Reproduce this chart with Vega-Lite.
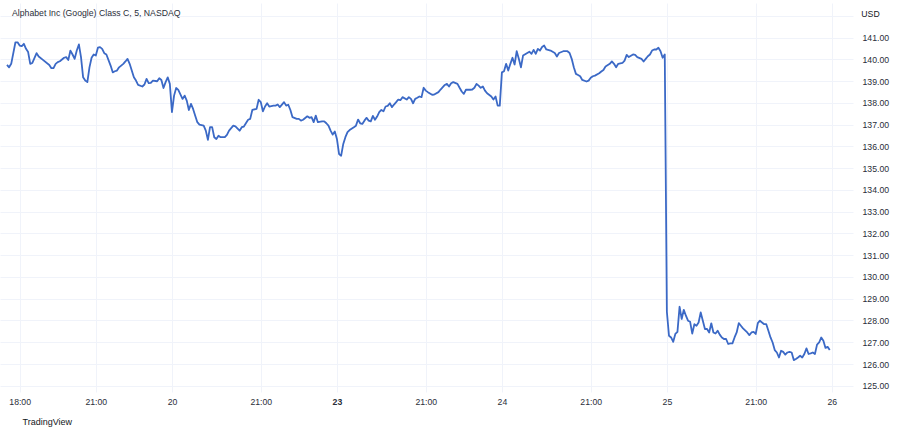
{
  "$schema": "https://vega.github.io/schema/vega-lite/v6.json",
  "width": 853,
  "height": 389,
  "autosize": {"type": "none"},
  "padding": {"left": 0, "top": 3, "right": 47, "bottom": 42},
  "background": "white",
  "config": {"view": {"stroke": null}, "font": "Liberation Sans"},
  "title": {
    "text": "Alphabet Inc (Google) Class C, 5, NASDAQ",
    "anchor": "start",
    "frame": "group",
    "orient": "top",
    "offset": -19,
    "dx": 12,
    "baseline": "middle",
    "fontSize": 8.7,
    "fontWeight": "normal",
    "color": "#2a2e39"
  },
  "data": {
    "values": [
      {"bar": 0, "price": 139.74}, {"bar": 1, "price": 139.63}, {"bar": 2, "price": 139.79}, {"bar": 4, "price": 140.78}, {"bar": 5, "price": 140.78}, {"bar": 6, "price": 140.63}, {"bar": 7, "price": 140.60}, {"bar": 8, "price": 140.71}, {"bar": 9, "price": 140.48}, {"bar": 10, "price": 140.33}, {"bar": 11, "price": 139.79}, {"bar": 12, "price": 139.83}, {"bar": 14, "price": 140.28}, {"bar": 15, "price": 140.13}, {"bar": 17, "price": 139.97}, {"bar": 20, "price": 139.74}, {"bar": 21, "price": 139.59}, {"bar": 22, "price": 139.59}, {"bar": 23, "price": 139.79}, {"bar": 24, "price": 139.87}, {"bar": 25, "price": 139.91}, {"bar": 27, "price": 140.07}, {"bar": 28, "price": 140.10}, {"bar": 29, "price": 139.97}, {"bar": 30, "price": 140.40}, {"bar": 31, "price": 140.22}, {"bar": 32, "price": 140.02}, {"bar": 33, "price": 140.40}, {"bar": 34, "price": 140.68}, {"bar": 35, "price": 140.10}, {"bar": 36, "price": 139.17}, {"bar": 37, "price": 139.02}, {"bar": 38, "price": 138.95}, {"bar": 39, "price": 139.63}, {"bar": 40, "price": 140.07}, {"bar": 41, "price": 140.22}, {"bar": 42, "price": 140.17}, {"bar": 43, "price": 140.53}, {"bar": 44, "price": 140.56}, {"bar": 45, "price": 140.48}, {"bar": 46, "price": 140.28}, {"bar": 47, "price": 140.22}, {"bar": 49, "price": 139.71}, {"bar": 50, "price": 139.40}, {"bar": 51, "price": 139.45}, {"bar": 52, "price": 139.48}, {"bar": 53, "price": 139.63}, {"bar": 55, "price": 139.79}, {"bar": 56, "price": 139.90}, {"bar": 57, "price": 140.02}, {"bar": 58, "price": 139.79}, {"bar": 59, "price": 139.48}, {"bar": 60, "price": 139.17}, {"bar": 61, "price": 139.02}, {"bar": 62, "price": 138.82}, {"bar": 64, "price": 138.75}, {"bar": 65, "price": 138.84}, {"bar": 66, "price": 139.10}, {"bar": 67, "price": 138.90}, {"bar": 68, "price": 138.92}, {"bar": 69, "price": 139.02}, {"bar": 71, "price": 138.99}, {"bar": 72, "price": 139.13}, {"bar": 73, "price": 139.05}, {"bar": 74, "price": 138.68}, {"bar": 75, "price": 138.95}, {"bar": 76, "price": 139.17}, {"bar": 77, "price": 138.87},
      {"bar": 78, "price": 137.57}, {"bar": 79, "price": 138.33}, {"bar": 80, "price": 138.68}, {"bar": 81, "price": 138.59}, {"bar": 83, "price": 138.18}, {"bar": 84, "price": 138.33}, {"bar": 85, "price": 138.10}, {"bar": 86, "price": 137.67}, {"bar": 87, "price": 137.95}, {"bar": 88, "price": 137.72}, {"bar": 89, "price": 137.41}, {"bar": 90, "price": 137.11}, {"bar": 91, "price": 137.00}, {"bar": 93, "price": 136.95}, {"bar": 94, "price": 136.72}, {"bar": 95, "price": 136.30}, {"bar": 96, "price": 136.88}, {"bar": 97, "price": 136.88}, {"bar": 98, "price": 136.42}, {"bar": 99, "price": 136.34}, {"bar": 100, "price": 136.49}, {"bar": 101, "price": 136.42}, {"bar": 103, "price": 136.42}, {"bar": 104, "price": 136.53}, {"bar": 105, "price": 136.72}, {"bar": 107, "price": 136.95}, {"bar": 108, "price": 136.92}, {"bar": 110, "price": 136.72}, {"bar": 111, "price": 136.88}, {"bar": 112, "price": 136.91}, {"bar": 114, "price": 137.22}, {"bar": 115, "price": 137.26}, {"bar": 116, "price": 137.67}, {"bar": 118, "price": 137.72}, {"bar": 119, "price": 138.14}, {"bar": 120, "price": 138.03}, {"bar": 121, "price": 137.61}, {"bar": 122, "price": 137.83}, {"bar": 123, "price": 137.98}, {"bar": 124, "price": 137.83}, {"bar": 126, "price": 137.87}, {"bar": 127, "price": 137.87}, {"bar": 128, "price": 137.92}, {"bar": 129, "price": 137.80}, {"bar": 131, "price": 138.03}, {"bar": 132, "price": 137.87}, {"bar": 133, "price": 137.91}, {"bar": 134, "price": 137.67}, {"bar": 135, "price": 137.34}, {"bar": 137, "price": 137.26}, {"bar": 138, "price": 137.26}, {"bar": 139, "price": 137.18}, {"bar": 140, "price": 137.22}, {"bar": 142, "price": 137.38}, {"bar": 143, "price": 137.31}, {"bar": 144, "price": 137.34}, {"bar": 145, "price": 137.11}, {"bar": 146, "price": 137.41}, {"bar": 147, "price": 137.11}, {"bar": 149, "price": 137.15}, {"bar": 150, "price": 137.15}, {"bar": 151, "price": 137.06}, {"bar": 152, "price": 136.95}, {"bar": 153, "price": 136.72}, {"bar": 154, "price": 136.54}, {"bar": 155, "price": 136.68},
      {"bar": 156, "price": 136.34}, {"bar": 157, "price": 135.65}, {"bar": 158, "price": 135.57}, {"bar": 159, "price": 136.11}, {"bar": 160, "price": 136.42}, {"bar": 161, "price": 136.65}, {"bar": 162, "price": 136.75}, {"bar": 164, "price": 136.88}, {"bar": 165, "price": 136.95}, {"bar": 166, "price": 137.23}, {"bar": 167, "price": 137.06}, {"bar": 168, "price": 137.03}, {"bar": 169, "price": 137.18}, {"bar": 170, "price": 137.31}, {"bar": 171, "price": 137.18}, {"bar": 172, "price": 137.15}, {"bar": 173, "price": 137.40}, {"bar": 174, "price": 137.22}, {"bar": 175, "price": 137.37}, {"bar": 176, "price": 137.57}, {"bar": 177, "price": 137.67}, {"bar": 178, "price": 137.61}, {"bar": 179, "price": 137.83}, {"bar": 180, "price": 137.86}, {"bar": 181, "price": 137.98}, {"bar": 182, "price": 137.80}, {"bar": 183, "price": 137.92}, {"bar": 184, "price": 138.03}, {"bar": 185, "price": 138.15}, {"bar": 186, "price": 138.12}, {"bar": 187, "price": 138.26}, {"bar": 189, "price": 138.15}, {"bar": 190, "price": 138.26}, {"bar": 191, "price": 138.18}, {"bar": 192, "price": 137.98}, {"bar": 193, "price": 138.18}, {"bar": 194, "price": 138.23}, {"bar": 195, "price": 138.29}, {"bar": 196, "price": 138.26}, {"bar": 197, "price": 138.69}, {"bar": 198, "price": 138.56}, {"bar": 199, "price": 138.49}, {"bar": 201, "price": 138.37}, {"bar": 202, "price": 138.38}, {"bar": 204, "price": 138.49}, {"bar": 205, "price": 138.61}, {"bar": 207, "price": 138.82}, {"bar": 208, "price": 138.87}, {"bar": 209, "price": 138.75}, {"bar": 210, "price": 138.90}, {"bar": 211, "price": 138.95}, {"bar": 213, "price": 138.87}, {"bar": 214, "price": 138.69}, {"bar": 215, "price": 138.52}, {"bar": 216, "price": 138.41}, {"bar": 217, "price": 138.60}, {"bar": 218, "price": 138.61}, {"bar": 219, "price": 138.60}, {"bar": 220, "price": 138.61}, {"bar": 221, "price": 138.69}, {"bar": 222, "price": 138.87}, {"bar": 223, "price": 138.79}, {"bar": 224, "price": 138.69}, {"bar": 225, "price": 138.75}, {"bar": 226, "price": 138.56}, {"bar": 227, "price": 138.44}, {"bar": 229, "price": 138.29}, {"bar": 230, "price": 138.15}, {"bar": 231, "price": 138.29}, {"bar": 232, "price": 137.87}, {"bar": 233, "price": 137.87},
      {"bar": 234, "price": 139.40}, {"bar": 235, "price": 139.45}, {"bar": 236, "price": 139.79}, {"bar": 237, "price": 139.48}, {"bar": 238, "price": 139.79}, {"bar": 239, "price": 140.07}, {"bar": 240, "price": 139.76}, {"bar": 241, "price": 140.37}, {"bar": 242, "price": 140.02}, {"bar": 243, "price": 139.63}, {"bar": 244, "price": 140.17}, {"bar": 246, "price": 140.29}, {"bar": 247, "price": 140.35}, {"bar": 248, "price": 140.25}, {"bar": 249, "price": 140.43}, {"bar": 250, "price": 140.25}, {"bar": 251, "price": 140.48}, {"bar": 252, "price": 140.40}, {"bar": 253, "price": 140.56}, {"bar": 254, "price": 140.63}, {"bar": 255, "price": 140.45}, {"bar": 257, "price": 140.40}, {"bar": 259, "price": 140.29}, {"bar": 260, "price": 140.13}, {"bar": 261, "price": 140.29}, {"bar": 263, "price": 140.37}, {"bar": 265, "price": 140.37}, {"bar": 266, "price": 140.29}, {"bar": 267, "price": 140.02}, {"bar": 268, "price": 139.63}, {"bar": 269, "price": 139.33}, {"bar": 270, "price": 139.28}, {"bar": 271, "price": 139.22}, {"bar": 272, "price": 139.05}, {"bar": 274, "price": 138.98}, {"bar": 275, "price": 139.02}, {"bar": 276, "price": 139.15}, {"bar": 277, "price": 139.22}, {"bar": 278, "price": 139.25}, {"bar": 280, "price": 139.36}, {"bar": 281, "price": 139.44}, {"bar": 282, "price": 139.51}, {"bar": 283, "price": 139.67}, {"bar": 285, "price": 139.79}, {"bar": 286, "price": 139.90}, {"bar": 287, "price": 139.79}, {"bar": 288, "price": 139.63}, {"bar": 289, "price": 139.79}, {"bar": 291, "price": 139.83}, {"bar": 292, "price": 139.94}, {"bar": 293, "price": 140.20}, {"bar": 294, "price": 140.10}, {"bar": 295, "price": 140.16}, {"bar": 296, "price": 140.22}, {"bar": 297, "price": 140.20}, {"bar": 298, "price": 140.10}, {"bar": 300, "price": 140.02}, {"bar": 301, "price": 139.90}, {"bar": 302, "price": 140.02}, {"bar": 303, "price": 140.14}, {"bar": 304, "price": 140.22}, {"bar": 305, "price": 140.40}, {"bar": 306, "price": 140.45}, {"bar": 307, "price": 140.45}, {"bar": 308, "price": 140.53}, {"bar": 309, "price": 140.37}, {"bar": 310, "price": 140.07}, {"bar": 311, "price": 140.22},
      {"bar": 312, "price": 128.40}, {"bar": 313, "price": 127.30}, {"bar": 314, "price": 127.22}, {"bar": 315, "price": 127.02}, {"bar": 316, "price": 127.38}, {"bar": 317, "price": 127.48}, {"bar": 318, "price": 128.63}, {"bar": 319, "price": 128.07}, {"bar": 320, "price": 128.49}, {"bar": 321, "price": 128.22}, {"bar": 322, "price": 127.99}, {"bar": 323, "price": 127.94}, {"bar": 324, "price": 127.40}, {"bar": 325, "price": 127.83}, {"bar": 326, "price": 127.76}, {"bar": 327, "price": 127.91}, {"bar": 328, "price": 128.37}, {"bar": 329, "price": 127.99}, {"bar": 330, "price": 127.61}, {"bar": 331, "price": 127.61}, {"bar": 332, "price": 127.45}, {"bar": 333, "price": 127.87}, {"bar": 334, "price": 127.45}, {"bar": 335, "price": 127.40}, {"bar": 336, "price": 127.53}, {"bar": 337, "price": 127.35}, {"bar": 338, "price": 127.22}, {"bar": 339, "price": 127.15}, {"bar": 340, "price": 127.15}, {"bar": 341, "price": 126.92}, {"bar": 342, "price": 126.95}, {"bar": 343, "price": 126.95}, {"bar": 344, "price": 127.22}, {"bar": 345, "price": 127.45}, {"bar": 346, "price": 127.88}, {"bar": 347, "price": 127.76}, {"bar": 348, "price": 127.64}, {"bar": 350, "price": 127.45}, {"bar": 351, "price": 127.33}, {"bar": 352, "price": 127.45}, {"bar": 353, "price": 127.48}, {"bar": 354, "price": 127.38}, {"bar": 355, "price": 127.88}, {"bar": 356, "price": 127.99}, {"bar": 358, "price": 127.83}, {"bar": 359, "price": 127.83}, {"bar": 360, "price": 127.53}, {"bar": 361, "price": 127.22}, {"bar": 362, "price": 126.99}, {"bar": 363, "price": 126.64}, {"bar": 364, "price": 126.53}, {"bar": 365, "price": 126.30}, {"bar": 366, "price": 126.61}, {"bar": 367, "price": 126.56}, {"bar": 368, "price": 126.43}, {"bar": 369, "price": 126.53}, {"bar": 370, "price": 126.56}, {"bar": 371, "price": 126.53}, {"bar": 372, "price": 126.18}, {"bar": 373, "price": 126.23}, {"bar": 374, "price": 126.30}, {"bar": 375, "price": 126.38}, {"bar": 376, "price": 126.30}, {"bar": 377, "price": 126.46}, {"bar": 378, "price": 126.72}, {"bar": 379, "price": 126.46}, {"bar": 380, "price": 126.49}, {"bar": 381, "price": 126.53}, {"bar": 382, "price": 126.46}, {"bar": 383, "price": 126.89}, {"bar": 384, "price": 126.99}, {"bar": 385, "price": 127.22}, {"bar": 386, "price": 127.07}, {"bar": 387, "price": 126.74}, {"bar": 388, "price": 126.79}, {"bar": 389, "price": 126.64}
    ]
  },
  "mark": {"type": "line", "color": "#3b69c6", "strokeWidth": 1.8, "strokeJoin": "round", "clip": true},
  "encoding": {
    "x": {
      "field": "bar",
      "type": "quantitative",
      "scale": {"domain": [-3.3, 400], "nice": false, "zero": false},
      "axis": {
        "orient": "bottom",
        "values": [6, 42, 78, 120, 156, 198, 234, 276, 312, 354, 390],
        "labelExpr": "{'6':'18:00','42':'21:00','78':'20','120':'21:00','156':'23','198':'21:00','234':'24','276':'21:00','312':'25','354':'21:00','390':'26'}[datum.value + '']",
        "labelFontWeight": {"condition": {"test": "datum.value == 156", "value": "bold"}, "value": "normal"},
        "grid": true,
        "gridColor": "#f0f3fa",
        "gridWidth": 1,
        "domain": false,
        "ticks": false,
        "labelPadding": 5,
        "labelFontSize": 8.7,
        "labelColor": "#2a2e39",
        "labelFlush": false,
        "labelOverlap": false,
        "title": "TradingView",
        "titleAlign": "left",
        "titleAnchor": null,
        "titleX": 22,
        "titleY": 29,
        "titleBaseline": "middle",
        "titleFontSize": 9,
        "titleFontWeight": "normal",
        "titleColor": "#131722"
      }
    },
    "y": {
      "field": "price",
      "type": "quantitative",
      "scale": {"domain": [124.715, 142.585], "nice": false, "zero": false},
      "axis": {
        "orient": "right",
        "values": [125, 126, 127, 128, 129, 130, 131, 132, 133, 134, 135, 136, 137, 138, 139, 140, 141, 142],
        "labelExpr": "datum.value > 141.5 ? '' : format(datum.value, '.2f')",
        "grid": true,
        "gridColor": "#f0f3fa",
        "gridWidth": 1,
        "domain": false,
        "ticks": false,
        "labelAlign": "left",
        "labelPadding": 9,
        "labelFontSize": 8.7,
        "labelColor": "#2a2e39",
        "labelOverlap": false,
        "labelFlush": false,
        "title": "USD",
        "titleAngle": 0,
        "titleX": 17,
        "titleY": 10,
        "titleAlign": "center",
        "titleBaseline": "middle",
        "titleFontSize": 8.7,
        "titleFontWeight": "normal",
        "titleColor": "#131722"
      }
    }
  }
}
